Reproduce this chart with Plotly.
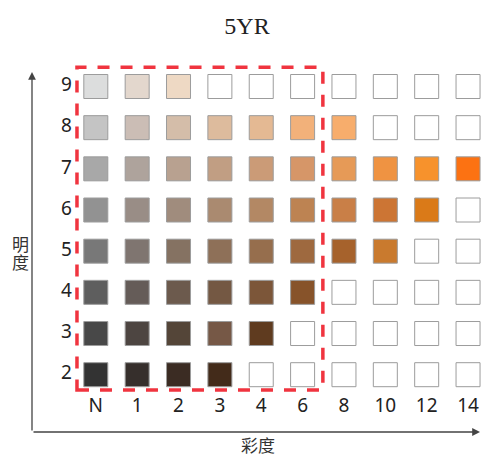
import plotly.graph_objects as go

# ---- data ----
chroma_labels = ["N", "1", "2", "3", "4", "6", "8", "10", "12", "14"]
value_levels = [9, 8, 7, 6, 5, 4, 3, 2]

row9 = ["#dcdddd", "#e3d7cd", "#eed9c4", None, None, None, None, None, None, None]
row8 = ["#c4c4c4", "#cbbdb5", "#d4bda9", "#ddbb9d", "#e4b993", "#f2b17a", "#f7ad6c", None, None, None]
row7 = ["#a8a8a8", "#aea39c", "#b8a190", "#c19e83", "#cb9b77", "#d69668", "#e69a57", "#ef9342", "#f7922c", "#fc7212"]
row6 = ["#929292", "#998d86", "#a08c7d", "#aa8a70", "#b38864", "#bd8352", "#c97f47", "#cc7534", "#da7a18", None]
row5 = ["#787878", "#7f7570", "#857262", "#8e7058", "#966e4d", "#9e693f", "#a6622c", "#c97a2e", None, None]
row4 = ["#5e5e5e", "#655c58", "#6c5a4d", "#745843", "#7c5639", "#87532a", None, None, None, None]
row3 = ["#484848", "#4d4541", "#544538", "#765846", "#5f3b1f", None, None, None, None, None]
row2 = ["#333333", "#362f2c", "#3b2c23", "#432b1a", None, None, None, None, None, None]
rows = [row9, row8, row7, row6, row5, row4, row3, row2]

title_text = "5YR"
y_title_chars = ["明", "度"]
x_title = "彩度"

W, H = 483, 456


def px(xp):
    return xp / W


def py(yp):
    return 1 - yp / H


# ---- build marks ----
xs, ys, cs = [], [], []
for lvl, row in zip(value_levels, rows):
    for i, c in enumerate(row):
        xs.append(i)
        ys.append(lvl)
        cs.append(c if c else "#ffffff")

fig = go.Figure()
fig.add_trace(go.Scatter(
    x=xs, y=ys, mode="markers",
    marker=dict(symbol="square", size=24, color=cs,
                line=dict(color="#9c9c9c", width=1)),
    hoverinfo="skip", showlegend=False,
))

# tick labels as text
fig.add_trace(go.Scatter(
    x=[-0.71] * len(value_levels), y=value_levels, mode="text",
    text=[str(v) for v in value_levels],
    textfont=dict(family="Noto Sans", size=19, color="#222222"),
    hoverinfo="skip", showlegend=False,
))
fig.add_trace(go.Scatter(
    x=list(range(len(chroma_labels))), y=[1.2] * len(chroma_labels), mode="text",
    text=chroma_labels,
    textfont=dict(family="Noto Sans", size=19, color="#222222"),
    hoverinfo="skip", showlegend=False,
))

# dashed highlight box
fig.add_shape(type="rect", x0=-0.455, x1=5.49, y0=1.63, y1=9.47,
              xref="x", yref="y",
              line=dict(color="#f0343f", width=3.5, dash="12px,11px"),
              fillcolor="rgba(0,0,0,0)")

# axis arrows
fig.add_annotation(x=px(32), y=py(72), xref="paper", yref="paper",
                   ax=0, ay=360, axref="pixel", ayref="pixel",
                   text="", showarrow=True, arrowhead=2, arrowsize=1.2,
                   arrowwidth=1.3, arrowcolor="#444444")
fig.add_annotation(x=px(480), y=py(432), xref="paper", yref="paper",
                   ax=-448, ay=0, axref="pixel", ayref="pixel",
                   text="", showarrow=True, arrowhead=2, arrowsize=1.2,
                   arrowwidth=1.3, arrowcolor="#444444")

# axis titles (vertical title stacked character by character)
for ch, yc in zip(y_title_chars, [243.5, 261.5]):
    fig.add_annotation(x=px(20), y=py(yc), xref="paper", yref="paper",
                       xanchor="center", yanchor="middle",
                       text=ch, showarrow=False, borderpad=0,
                       font=dict(family="Noto Sans CJK SC", size=17, color="#333333"))
fig.add_annotation(x=px(258), y=py(444), xref="paper", yref="paper",
                   xanchor="center", yanchor="middle",
                   text=x_title, showarrow=False, borderpad=0,
                   font=dict(family="Noto Sans CJK SC", size=17, color="#333333"))

X0, Y9 = 95.8, 86.5
fig.update_layout(
    width=W, height=H,
    margin=dict(l=0, r=0, t=0, b=0),
    paper_bgcolor="white", plot_bgcolor="white",
    title=dict(text=title_text, x=px(247), y=py(26), xref="container", yref="container",
               xanchor="center", yanchor="middle",
               font=dict(family="Liberation Serif", size=24, color="#222222")),
    xaxis=dict(range=[-X0 / 41.36, (W - X0) / 41.36], visible=False, fixedrange=True),
    yaxis=dict(range=[9 - (H - Y9) / 41.17, 9 + Y9 / 41.17], visible=False, fixedrange=True),
)

fig.write_html(
    "out.html",
    config={"displayModeBar": False},
    post_script="document.body.style.margin='0';document.body.style.overflow='hidden';",
)
